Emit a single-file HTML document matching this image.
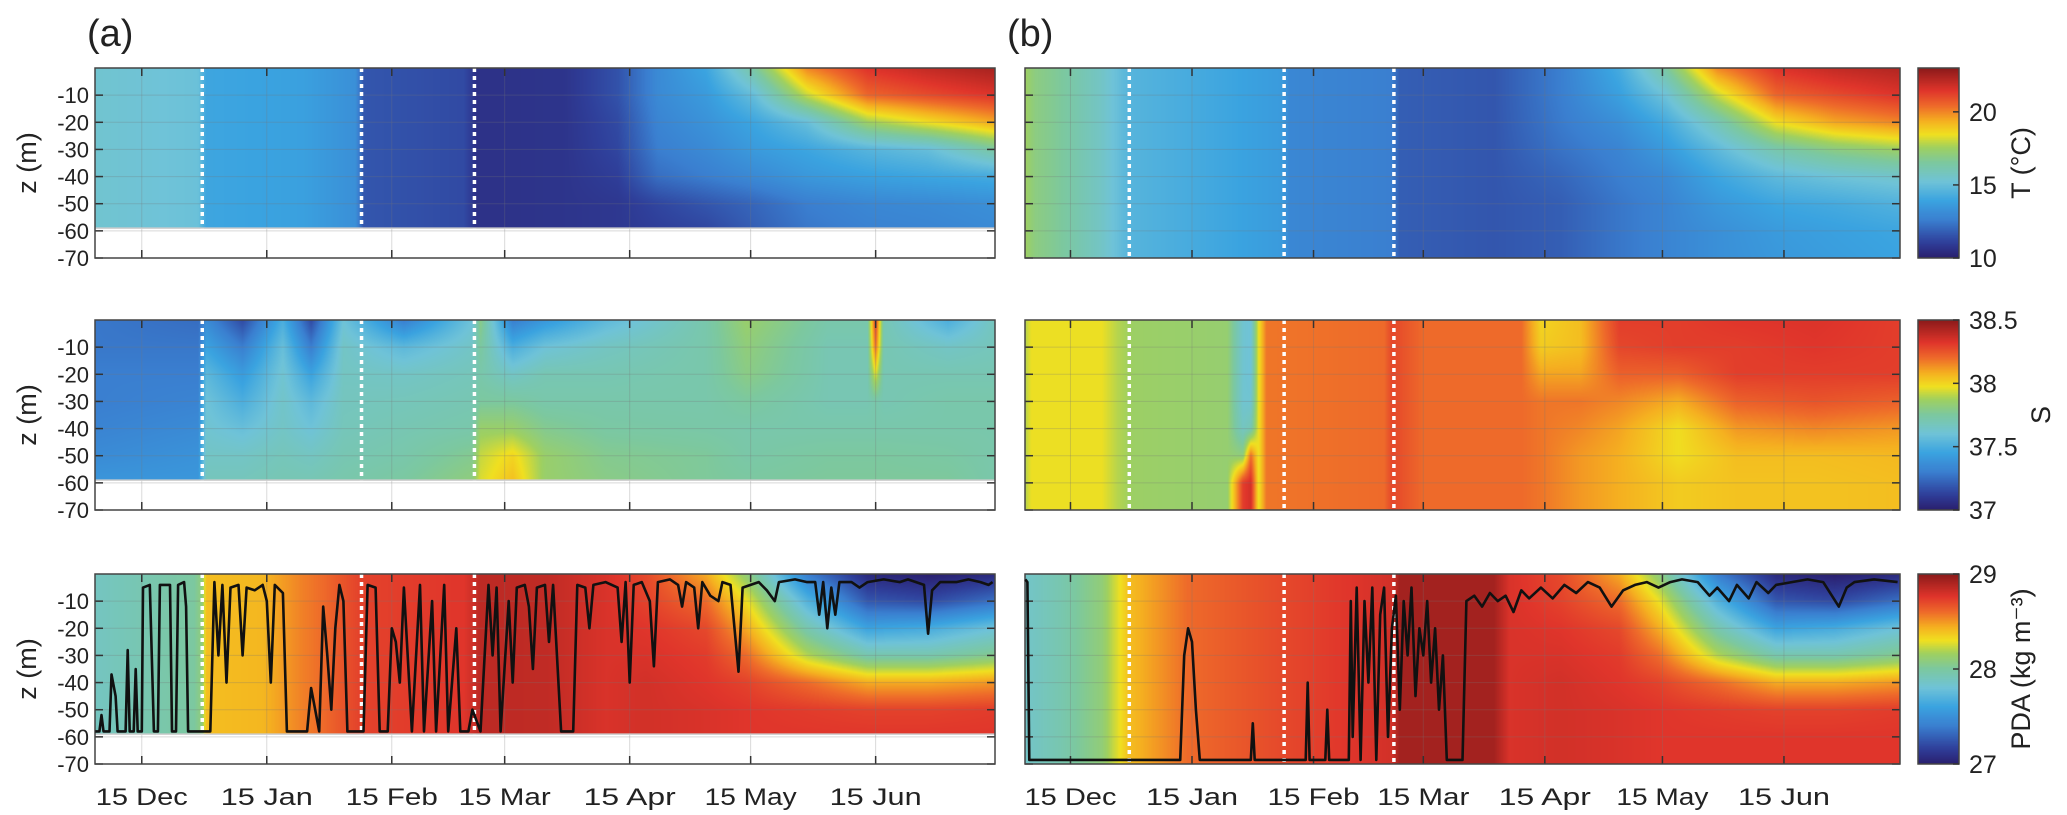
<!DOCTYPE html>
<html><head><meta charset="utf-8">
<style>
html,body{margin:0;padding:0;background:#fff;}
#root{position:relative;width:2067px;height:815px;overflow:hidden;font-family:"Liberation Sans",Arial,sans-serif;}
canvas{position:absolute;}
svg{position:absolute;left:0;top:0;}
</style></head>
<body>
<div id="root">
<canvas id="c_aT"></canvas>
<canvas id="c_bT"></canvas>
<canvas id="c_aS"></canvas>
<canvas id="c_bS"></canvas>
<canvas id="c_aP"></canvas>
<canvas id="c_bP"></canvas>
<canvas id="cb_T"></canvas>
<canvas id="cb_S"></canvas>
<canvas id="cb_P"></canvas>
<svg id="ov" width="2067" height="815"></svg>
</div>
<script>
// ---------- data ----------
const depths = [0,10,20,30,40,50,60,70];
const tickDays = [0,31,62,90,121,151,182];
const tickLabels = ["15 Dec","15 Jan","15 Feb","15 Mar","15 Apr","15 May","15 Jun"];
const depthTicks = [-10,-20,-30,-40,-50,-60,-70];
const dottedDays = [15,54.5,82.5];

const aTDays = [-12,14,16,40,53,55,80,83,105,118,128,140,152,165,180,195,212];
const aTVals = [
[15.4,15.4,15.4,15.4,15.4,15.4,15.4,15.4],
[15.1,15.1,15.1,15.1,15.1,15.1,15.1,15.1],
[14.0,14.0,14.0,14.0,14.0,14.0,14.0,14.0],
[13.8,13.8,13.8,13.8,13.8,13.8,13.8,13.8],
[13.2,13.2,13.2,13.2,13.2,13.2,13.2,13.2],
[11.6,11.6,11.6,11.6,11.6,11.6,11.6,11.6],
[11.3,11.3,11.3,11.3,11.3,11.3,11.3,11.3],
[10.6,10.6,10.6,10.6,10.6,10.6,10.6,10.6],
[10.7,10.7,10.7,10.7,10.7,10.7,10.7,10.7],
[11.5,11.5,11.3,11.2,11.0,10.8,10.8,10.8],
[13.0,13.0,12.8,12.6,12.2,11.2,11.0,11.0],
[14.0,13.6,13.3,13.0,12.6,11.6,11.2,11.2],
[16.5,15.0,14.0,13.6,13.0,12.0,11.8,11.8],
[20.0,18.0,15.0,14.0,13.5,12.6,12.4,12.4],
[21.5,20.5,17.5,14.6,13.8,12.9,12.7,12.7],
[22.0,21.0,18.5,15.0,14.0,13.0,12.8,12.8],
[22.5,21.5,19.5,16.5,14.2,13.2,13.0,13.0]];

const bTDays = [-12,-9,-3,8,15,40,54,56,82,84,108,125,140,152,165,180,195,212];
const bTVals = [
[17.6,17.6,17.6,17.6,17.6,17.6,17.6,17.6],
[17.0,17.0,17.0,17.0,17.0,17.0,17.0,17.0],
[16.6,16.6,16.6,16.6,16.6,16.6,16.6,16.6],
[15.6,15.6,15.6,15.6,15.6,15.6,15.6,15.6],
[14.6,14.6,14.6,14.6,14.6,14.6,14.6,14.6],
[14.0,14.0,14.0,14.0,14.0,14.0,14.0,14.0],
[13.6,13.6,13.6,13.6,13.6,13.6,13.6,13.6],
[12.9,12.9,12.9,12.9,12.9,12.9,12.9,12.9],
[12.6,12.6,12.6,12.6,12.6,12.6,12.6,12.6],
[11.8,11.8,11.8,11.8,11.8,11.8,11.8,11.8],
[11.6,11.6,11.6,11.6,11.6,11.6,11.6,11.6],
[12.6,12.6,12.5,12.3,12.0,11.8,11.8,11.8],
[14.2,13.8,13.2,12.8,12.6,12.4,12.4,12.4],
[16.5,15.2,14.2,13.6,13.0,12.8,12.8,12.8],
[20.0,18.0,16.0,14.8,14.0,13.5,13.2,13.2],
[21.5,20.5,18.5,16.2,14.8,14.0,13.6,13.5],
[22.0,21.0,19.5,17.0,15.2,14.2,13.8,13.7],
[22.3,21.5,20.0,17.5,15.5,14.5,14.0,13.9]];

const aSDays = [-12,14,16,25,35,42,50,65,82,84,92,100,115,140,150,170,180,182,184,200,212];
const aSVals = [
[37.28,37.28,37.3,37.3,37.32,37.35,37.4,37.4],
[37.25,37.28,37.3,37.32,37.35,37.38,37.4,37.4],
[37.35,37.45,37.55,37.6,37.62,37.65,37.68,37.68],
[37.15,37.3,37.42,37.5,37.58,37.65,37.68,37.68],
[37.5,37.58,37.62,37.64,37.65,37.68,37.7,37.7],
[37.15,37.3,37.45,37.55,37.6,37.66,37.7,37.7],
[37.6,37.65,37.66,37.67,37.68,37.7,37.72,37.72],
[37.3,37.55,37.65,37.68,37.7,37.72,37.75,37.75],
[37.6,37.65,37.68,37.7,37.72,37.78,37.82,37.82],
[37.8,37.75,37.72,37.75,37.85,37.92,37.95,37.95],
[37.3,37.5,37.65,37.75,37.85,38.0,38.05,38.05],
[37.4,37.6,37.7,37.72,37.78,37.85,37.85,37.85],
[37.55,37.66,37.7,37.72,37.74,37.78,37.8,37.8],
[37.72,37.72,37.72,37.72,37.73,37.76,37.76,37.76],
[37.85,37.82,37.8,37.75,37.72,37.73,37.75,37.75],
[37.72,37.7,37.7,37.7,37.72,37.75,37.76,37.76],
[37.72,37.7,37.7,37.7,37.72,37.75,37.76,37.76],
[38.3,38.2,37.95,37.72,37.72,37.75,37.76,37.76],
[37.7,37.7,37.7,37.7,37.72,37.75,37.76,37.76],
[37.5,37.65,37.7,37.72,37.72,37.74,37.76,37.76],
[37.68,37.68,37.7,37.72,37.72,37.72,37.72,37.72]];

const bSDays = [-12,-10,8,12,16,40,44,46,48,50,80,82,90,115,120,130,140,155,170,190,212];
const bSVals = [
[37.88,37.88,37.88,37.88,37.88,37.88,37.88,37.88],
[37.97,37.97,37.97,37.97,37.97,37.97,37.97,37.97],
[37.97,37.97,37.97,37.97,37.97,37.97,37.97,37.97],
[37.9,37.9,37.9,37.9,37.9,37.9,37.9,37.9],
[37.86,37.86,37.86,37.86,37.86,37.86,37.86,37.86],
[37.84,37.84,37.84,37.84,37.84,37.84,37.84,37.84],
[37.62,37.62,37.62,37.62,37.66,37.82,38.3,38.3],
[37.6,37.6,37.6,37.62,37.7,38.2,38.35,38.35],
[37.97,37.97,37.97,37.97,37.97,37.97,37.97,37.97],
[38.18,38.18,38.18,38.18,38.18,38.18,38.18,38.18],
[38.2,38.2,38.2,38.2,38.2,38.2,38.2,38.2],
[38.28,38.28,38.28,38.28,38.28,38.28,38.28,38.28],
[38.2,38.2,38.2,38.2,38.2,38.2,38.2,38.2],
[38.2,38.2,38.2,38.2,38.2,38.2,38.2,38.2],
[38.0,38.02,38.1,38.18,38.18,38.18,38.18,38.18],
[38.05,38.05,38.1,38.18,38.15,38.12,38.12,38.12],
[38.3,38.28,38.22,38.15,38.1,38.08,38.08,38.08],
[38.3,38.3,38.22,38.08,37.98,37.98,38.02,38.02],
[38.32,38.3,38.3,38.22,38.12,38.05,38.04,38.04],
[38.33,38.32,38.3,38.25,38.15,38.05,38.04,38.04],
[38.3,38.3,38.3,38.22,38.12,38.06,38.05,38.05]];

const aPDays = [-12,13,15,16,30,40,45,54,80,84,100,115,125,140,150,165,180,195,212];
const aPVals = [
[27.88,27.88,27.88,27.88,27.88,27.88,27.88,27.88],
[28.0,28.0,28.0,28.0,28.0,28.0,28.0,28.0],
[28.1,28.1,28.1,28.1,28.1,28.1,28.1,28.1],
[28.4,28.4,28.4,28.4,28.4,28.4,28.4,28.4],
[28.42,28.42,28.42,28.42,28.42,28.42,28.42,28.42],
[28.55,28.55,28.55,28.55,28.55,28.55,28.55,28.55],
[28.6,28.6,28.6,28.6,28.6,28.6,28.6,28.6],
[28.72,28.72,28.72,28.72,28.72,28.72,28.72,28.72],
[28.76,28.76,28.76,28.76,28.76,28.76,28.76,28.76],
[28.86,28.86,28.86,28.86,28.86,28.86,28.86,28.86],
[28.85,28.85,28.85,28.85,28.85,28.85,28.85,28.85],
[28.78,28.78,28.78,28.78,28.78,28.78,28.78,28.78],
[28.7,28.72,28.76,28.78,28.8,28.8,28.8,28.8],
[28.45,28.6,28.7,28.74,28.76,28.78,28.78,28.78],
[28.1,28.3,28.45,28.6,28.72,28.76,28.76,28.76],
[27.4,27.7,27.95,28.2,28.6,28.74,28.76,28.76],
[27.05,27.25,27.6,27.95,28.45,28.72,28.76,28.76],
[27.0,27.2,27.65,27.95,28.45,28.72,28.76,28.76],
[27.05,27.35,27.8,28.05,28.5,28.74,28.76,28.76]];

const bPDays = [-12,-2,8,15,30,54,82,84,108,112,125,140,150,165,180,195,212];
const bPVals = [
[27.85,27.85,27.85,27.85,27.85,27.85,27.85,27.85],
[27.95,27.95,27.95,27.95,27.95,27.95,27.95,27.95],
[28.1,28.1,28.1,28.1,28.1,28.1,28.1,28.1],
[28.4,28.4,28.4,28.4,28.4,28.4,28.4,28.4],
[28.6,28.6,28.6,28.6,28.6,28.6,28.6,28.6],
[28.7,28.7,28.7,28.7,28.7,28.7,28.7,28.7],
[28.8,28.8,28.8,28.8,28.8,28.8,28.8,28.8],
[28.93,28.93,28.93,28.93,28.93,28.93,28.93,28.93],
[28.93,28.93,28.93,28.93,28.93,28.93,28.93,28.93],
[28.78,28.78,28.78,28.78,28.78,28.78,28.78,28.78],
[28.7,28.72,28.76,28.78,28.8,28.8,28.8,28.8],
[28.45,28.6,28.7,28.74,28.76,28.78,28.78,28.78],
[28.1,28.3,28.45,28.6,28.72,28.76,28.76,28.76],
[27.4,27.7,27.95,28.2,28.6,28.74,28.76,28.76],
[27.05,27.25,27.6,27.95,28.45,28.72,28.76,28.76],
[27.0,27.2,27.65,27.95,28.45,28.72,28.76,28.76],
[27.05,27.35,27.8,28.05,28.5,28.74,28.76,28.76]];

const aMldDays = [-11.5,-10.5,-10,-9.5,-8,-7.5,-6.5,-6,-4,-3.5,-3,-2,-1.5,-1,0,0.3,2,3,4,4.5,7,7.5,8.5,9,10.5,11,11.5,17,18,19,20,21,22,24,25,26,28,30,31,32,33,35,36,41,42,43,44,45,46,47,48,49,50,51,55,56,58,59,61,62,63,64,65,67,69,70,72,73,75,76,78,79,81,82,84,86,87,88,89,91,92,93,95,96,97,98,100,101,102,104,107,108,110,111,112,115,118,119,120,121,122,124,126,127,128,131,133,134,135,137,138,139,141,143,144,146,148,149,151,153,155,157,158,162,165,167,168,169,170,171,172,173,176,178,180,184,188,190,192,194,195,196,198,202,205,208,210,211];
const aMldDepth = [58,58,52,58,58,37,45,58,58,28,58,58,35,58,58,5,4,58,58,4,4,58,58,4,3,12,58,58,3,30,4,40,5,4,30,5,6,4,10,40,4,7,58,58,42,50,58,12,30,50,20,4,10,58,58,4,5,58,58,20,25,40,5,58,4,58,10,58,4,58,20,58,58,50,58,4,30,5,58,10,40,5,4,12,35,5,4,25,4,58,58,4,5,20,4,3,5,25,3,40,4,3,10,34,3,2,4,12,3,5,20,3,8,10,3,4,36,5,4,3,6,10,3,2,3,3,15,3,20,5,15,3,3,5,3,2,3,2,3,4,22,6,3,3,2,3,4,3];

const bMldDays = [-11.5,-11,-10.5,28,29,30,31,32,33,46,46.5,47,60,60.5,61,65,65.5,66,71,71.5,72,73,74,75,76,77,78,79,80,81,82,83,84,85,86,87,88,89,90,91,92,93,94,95,96,100,101,103,105,107,109,111,113,115,117,120,123,126,129,132,135,138,141,144,147,150,153,156,160,163,165,168,170,173,175,178,180,184,188,192,196,198,200,205,211];
const bMldDepth = [2,3,68.5,68.5,30,20,25,50,68.5,68.5,55,68.5,68.5,40,68.5,68.5,50,68.5,68.5,10,60,5,68.5,10,40,5,68.5,15,5,60,20,8,50,10,30,5,45,20,30,10,40,20,50,30,68.5,68.5,10,8,12,7,10,8,14,6,9,5,9,4,7,3,5,12,6,4,3,5,3,2,3,8,5,10,4,9,3,7,4,3,2,3,12,5,3,2,3];

// ---------- colormap ----------
const cmapStops = [
 [0.00,[42,31,110]],[0.08,[47,63,154]],[0.20,[58,127,208]],[0.30,[58,163,224]],
 [0.40,[111,195,216]],[0.50,[124,200,160]],[0.58,[159,208,96]],[0.65,[240,224,32]],
 [0.72,[245,176,32]],[0.80,[238,106,42]],[0.88,[224,53,43]],[1.00,[138,26,26]]];
function cmap(f){
  f=Math.max(0,Math.min(1,f));
  for(let i=1;i<cmapStops.length;i++){
    if(f<=cmapStops[i][0]){
      const a=cmapStops[i-1],b=cmapStops[i];const u=(f-a[0])/(b[0]-a[0]);
      return [0,1,2].map(k=>Math.round(a[1][k]+(b[1][k]-a[1][k])*u));
    }
  }
  return cmapStops[cmapStops.length-1][1];
}

// ---------- geometry ----------
const D0=-11.6, D1=211.6, ZMAX=70;
const colA={left:95,width:900}, colB={left:1025,width:875};
const rowTops=[68,320,574], rowH=190;
const ranges={T:[10,23],S:[37,38.5],P:[27,29]};
function xScale(col,day){return col.left+(day-D0)/(D1-D0)*col.width;}
function yScale(row,depth){return rowTops[row]+depth/ZMAX*rowH;}

function sample(days,vals,d,z){
  let i=0; while(i<days.length-2 && d>days[i+1]) i++;
  let u=(d-days[i])/(days[i+1]-days[i]); u=Math.max(0,Math.min(1,u));
  let j=Math.min(depths.length-2,Math.floor(z/10)); let v=(z-depths[j])/10; v=Math.max(0,Math.min(1,v));
  const a=vals[i][j]*(1-v)+vals[i][j+1]*v, b=vals[i+1][j]*(1-v)+vals[i+1][j+1]*v;
  return a*(1-u)+b*u;
}
function drawHeat(id,col,row,days,vals,range,maxDepth){
  const c=document.getElementById(id);
  c.width=col.width;c.height=rowH;c.style.left=col.left+'px';c.style.top=rowTops[row]+'px';
  const ctx=c.getContext('2d');const img=ctx.createImageData(col.width,rowH);
  for(let x=0;x<col.width;x++){
    const d=D0+(x+0.5)/col.width*(D1-D0);
    for(let y=0;y<rowH;y++){
      const z=(y+0.5)/rowH*ZMAX; const p=(y*col.width+x)*4;
      if(z>maxDepth){img.data[p]=255;img.data[p+1]=255;img.data[p+2]=255;img.data[p+3]=255;continue;}
      const val=sample(days,vals,d,z); const rgb=cmap((val-range[0])/(range[1]-range[0]));
      img.data[p]=rgb[0];img.data[p+1]=rgb[1];img.data[p+2]=rgb[2];img.data[p+3]=255;
    }
  }
  ctx.putImageData(img,0,0);
}
drawHeat('c_aT',colA,0,aTDays,aTVals,ranges.T,59);
drawHeat('c_bT',colB,0,bTDays,bTVals,ranges.T,70);
drawHeat('c_aS',colA,1,aSDays,aSVals,ranges.S,59);
drawHeat('c_bS',colB,1,bSDays,bSVals,ranges.S,70);
drawHeat('c_aP',colA,2,aPDays,aPVals,ranges.P,59);
drawHeat('c_bP',colB,2,bPDays,bPVals,ranges.P,70);

const cbX=1918, cbW=41;
function drawCb(id,row){
  const c=document.getElementById(id);c.width=cbW;c.height=rowH;
  c.style.left=cbX+'px';c.style.top=rowTops[row]+'px';
  const ctx=c.getContext('2d');
  for(let y=0;y<rowH;y++){const rgb=cmap(1-(y+0.5)/rowH);ctx.fillStyle=`rgb(${rgb})`;ctx.fillRect(0,y,cbW,1);}
}
drawCb('cb_T',0);drawCb('cb_S',1);drawCb('cb_P',2);

// ---------- overlay ----------
const NS='http://www.w3.org/2000/svg';
const ov=document.getElementById('ov');
function mk(tag,attrs,parent){const e=document.createElementNS(NS,tag);for(const k in attrs)e.setAttribute(k,attrs[k]);(parent||ov).appendChild(e);return e;}

const fields=['temperature','salinity','density'];
[colA,colB].forEach((col,ci)=>{
  const pn=ci===0?'a':'b';
  for(let r=0;r<3;r++){
    const g=mk('g',{});
    
    
    const top=rowTops[r], bot=top+rowH;
    // grid
    tickDays.forEach(d=>{const x=xScale(col,d);
      const gl=mk('line',{x1:x,x2:x,y1:top,y2:bot,stroke:'rgba(120,120,120,0.28)','stroke-width':1},g);
      
      mk('line',{x1:x,x2:x,y1:top,y2:top+8,stroke:'#333','stroke-width':1.5},g);
      mk('line',{x1:x,x2:x,y1:bot,y2:bot-8,stroke:'#333','stroke-width':1.5},g);
    });
    depthTicks.forEach(z=>{const y=yScale(r,-z);
      const gl=mk('line',{x1:col.left,x2:col.left+col.width,y1:y,y2:y,stroke:'rgba(120,120,120,0.28)','stroke-width':1},g);
      
      mk('line',{x1:col.left,x2:col.left+8,y1:y,y2:y,stroke:'#333','stroke-width':1.5},g);
      mk('line',{x1:col.left+col.width,x2:col.left+col.width-8,y1:y,y2:y,stroke:'#333','stroke-width':1.5},g);
      if(ci===0){const t=mk('text',{x:col.left-6,y:y+8,'text-anchor':'end','font-size':22,fill:'#222'},g);t.textContent=z;
        }
    });
    if(ci===0){ // data bottom line
      const y=yScale(r,59);mk('line',{x1:col.left,x2:col.left+col.width,y1:y,y2:y,stroke:'#ccc','stroke-width':1.5},g);
    }
    // dotted
    dottedDays.forEach(d=>{const x=xScale(col,d);const dl=mk('line',{x1:x,x2:x,y1:top,y2:ci===0?yScale(r,59):bot,stroke:'#fff','stroke-width':3.5,'stroke-dasharray':'4 4'},g);
      });
    // frame
    const fr=mk('rect',{x:col.left,y:top,width:col.width,height:rowH,fill:'none',stroke:'#444','stroke-width':1.5},g);
    
    if(ci===0){const t=mk('text',{x:36,y:top+rowH/2,'text-anchor':'middle','font-size':27,fill:'#222',transform:`rotate(-90 36 ${top+rowH/2})`},g);
      t.textContent='z (m)';}
  }
  // x tick labels
  tickDays.forEach((d,i)=>{const t=mk('text',{x:xScale(col,d),y:805,'text-anchor':'middle','font-size':24,fill:'#222',textLength:92,lengthAdjust:'spacingAndGlyphs'});
    t.textContent=tickLabels[i];});
  const lab=mk('text',{x:col.left+(ci===0?-8:-18),y:46,'font-size':38,fill:'#222'});
  lab.textContent=ci===0?'(a)':'(b)';
});

// mixed layer lines
function mldPath(col,days,deps){
  let s='';for(let i=0;i<days.length;i++){s+=(i?'L':'M')+xScale(col,days[i]).toFixed(1)+','+yScale(2,deps[i]).toFixed(1);}return s;
}
const la=mk('path',{d:mldPath(colA,aMldDays,aMldDepth),fill:'none',stroke:'#111','stroke-width':2.6,'stroke-linejoin':'round'});

const lb=mk('path',{d:mldPath(colB,bMldDays,bMldDepth),fill:'none',stroke:'#111','stroke-width':2.6,'stroke-linejoin':'round'});


// colorbars
const cbTicks=[[10,15,20],[37,37.5,38,38.5],[27,28,29]];
const cbRanges=[ranges.T,ranges.S,ranges.P];
const cbTitles=['T (°C)','S','PDA (kg m⁻³)'];
for(let r=0;r<3;r++){
  const top=rowTops[r];
  const fr=mk('rect',{x:cbX,y:top,width:cbW,height:rowH,fill:'none',stroke:'#444','stroke-width':1.5});
  
  cbTicks[r].forEach(v=>{const y=top+rowH*(1-(v-cbRanges[r][0])/(cbRanges[r][1]-cbRanges[r][0]));
    mk('line',{x1:cbX+cbW-6,x2:cbX+cbW,y1:y,y2:y,stroke:'#333','stroke-width':1.5});
    const t=mk('text',{x:cbX+cbW+10,y:y+9,'font-size':25,fill:'#222'});t.textContent=v;
    });
  const tx=r===1?2050:2030, ty=top+rowH/2;
  const t=mk('text',{x:tx,y:ty,'text-anchor':'middle','font-size':27,fill:'#222',transform:`rotate(-90 ${tx} ${ty})`});
  t.textContent=cbTitles[r];
}
</script>
</body></html>
